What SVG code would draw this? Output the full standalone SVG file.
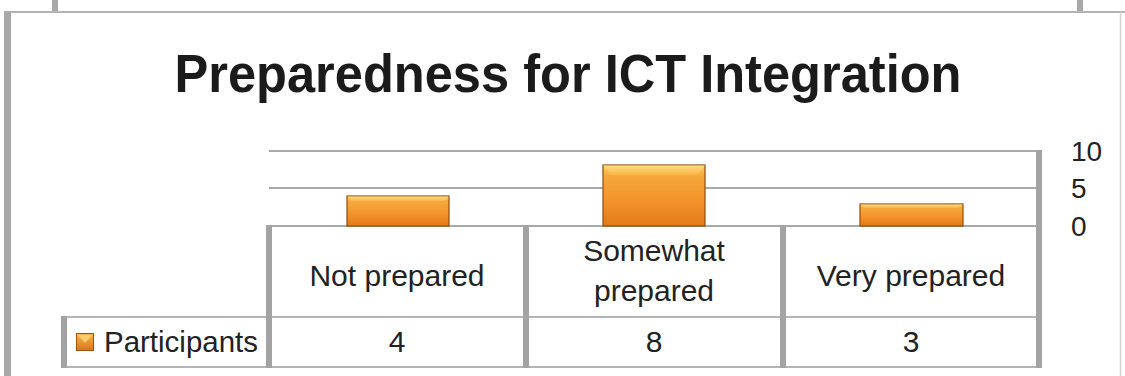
<svg xmlns="http://www.w3.org/2000/svg" width="1125" height="376" viewBox="0 0 1125 376">
  <defs>
    <linearGradient id="barGrad" x1="0" y1="0" x2="0" y2="1">
      <stop offset="0" stop-color="#fcd26a"/>
      <stop offset="0.18" stop-color="#f6a83a"/>
      <stop offset="0.6" stop-color="#f3932a"/>
      <stop offset="1" stop-color="#e27a18"/>
    </linearGradient>
    <linearGradient id="bevelGrad" x1="0" y1="0" x2="0" y2="1">
      <stop offset="0" stop-color="#ffe08a"/>
      <stop offset="1" stop-color="#f8b546"/>
    </linearGradient>
    <linearGradient id="legGrad" x1="0" y1="0" x2="0" y2="1">
      <stop offset="0" stop-color="#f9b850"/>
      <stop offset="1" stop-color="#d9731a"/>
    </linearGradient>
  </defs>
  <style>
    .frame { fill: #a8a8a8; }
    .hline { stroke: #b4b4b4; stroke-width: 2; fill: none; }
    .grid { stroke: #a9a9a9; stroke-width: 2; fill: none; }
    .vbar { fill: #a3a3a3; }
    .bar { fill: url(#barGrad); stroke: #8e4c0e; stroke-width: 1.2; }
    .bevel { fill: url(#bevelGrad); opacity: 0.85; }
    .title { font-family: "Liberation Sans", Arial, sans-serif; font-weight: bold; font-size: 53px; fill: #1b1b1b; }
    .lbl { font-family: "Liberation Sans", Arial, sans-serif; font-size: 30px; fill: #222222; }
    .axis { font-family: "Liberation Sans", Arial, sans-serif; font-size: 28px; fill: #222222; }
  </style>
  <rect width="1125" height="376" fill="#ffffff"/>

  <g id="frame">
    <rect class="frame" x="52" y="0" width="6" height="12"/>
    <rect class="frame" x="1077" y="0" width="6" height="12"/>
    <line class="hline" x1="4" y1="12" x2="1125" y2="12"/>
    <rect class="frame" x="4" y="12" width="7" height="364"/>
    <line x1="1120.5" y1="12" x2="1120.5" y2="376" stroke="#d2d2d2" stroke-width="1.5"/>
  </g>

  <g id="title">
    <text class="title" x="568" y="92" text-anchor="middle" textLength="787" lengthAdjust="spacingAndGlyphs">Preparedness for ICT Integration</text>
  </g>

  <g id="gridlines">
    <line class="grid" x1="269" y1="151" x2="1039" y2="151"/>
    <line class="grid" x1="269" y1="188" x2="1039" y2="188"/>
    <line class="grid" x1="269" y1="226" x2="1039" y2="226"/>
  </g>

  <g id="axis">
    <text class="axis" x="1071" y="161">10</text>
    <text class="axis" x="1071" y="198">5</text>
    <text class="axis" x="1071" y="236">0</text>
  </g>

  <g id="bars">
    <g id="bar-not-prepared">
      <rect class="bar" x="347" y="196" width="102" height="30"/>
      <polygon class="bevel" points="347.5,196.5 448.5,196.5 444,201 352,201"/>
    </g>
    <g id="bar-somewhat-prepared">
      <rect class="bar" x="603" y="165" width="102" height="61"/>
      <polygon class="bevel" points="603.5,165.5 704.5,165.5 698,175 610,175"/>
    </g>
    <g id="bar-very-prepared">
      <rect class="bar" x="860" y="204" width="103" height="22"/>
      <polygon class="bevel" points="860.5,204.5 962.5,204.5 958,208 865,208"/>
    </g>
  </g>

  <g id="table">
    <line class="hline" x1="64" y1="317" x2="1039" y2="317"/>
    <line class="hline" x1="64" y1="367" x2="1039" y2="367"/>
    <rect class="vbar" x="61" y="316" width="6" height="52"/>
    <rect class="vbar" x="266" y="225" width="6" height="143"/>
    <rect class="vbar" x="523" y="225" width="6" height="143"/>
    <rect class="vbar" x="780" y="225" width="6" height="143"/>
    <rect class="vbar" x="1036" y="150" width="6" height="218"/>
  </g>

  <g id="header-not-prepared">
    <text class="lbl" x="397" y="286" text-anchor="middle">Not prepared</text>
  </g>
  <g id="header-somewhat-prepared">
    <text class="lbl" x="654" y="261" text-anchor="middle">Somewhat</text>
    <text class="lbl" x="654" y="301" text-anchor="middle">prepared</text>
  </g>
  <g id="header-very-prepared">
    <text class="lbl" x="911" y="286" text-anchor="middle">Very prepared</text>
  </g>

  <g id="legend">
    <rect x="76.5" y="333.5" width="17" height="17" fill="url(#legGrad)" stroke="#9a5410" stroke-width="1"/>
    <polygon points="78,335 92,335 85,343" fill="#fbd36e" opacity="0.9"/>
    <text class="lbl" x="104" y="352" textLength="154" lengthAdjust="spacingAndGlyphs">Participants</text>
  </g>

  <g id="values">
    <text class="lbl" x="397" y="352" text-anchor="middle">4</text>
    <text class="lbl" x="654" y="352" text-anchor="middle">8</text>
    <text class="lbl" x="911" y="352" text-anchor="middle">3</text>
  </g>
</svg>
